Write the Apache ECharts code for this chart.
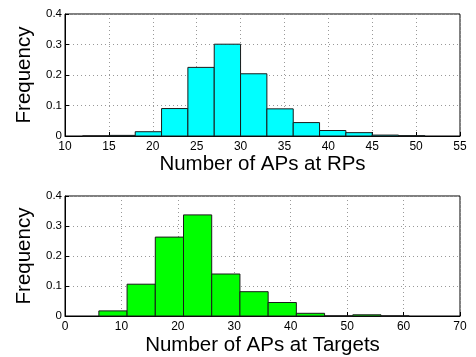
<!DOCTYPE html>
<html>
<head>
<meta charset="utf-8">
<script src="https://cdn.jsdelivr.net/npm/echarts@6/dist/echarts.min.js"></script>
<style>
  html, body { margin: 0; padding: 0; background: #fff; }
  #chart { width: 476px; height: 357px; }
</style>
</head>
<body>
<div id="chart"></div>
<script>
// Histogram of APs heard at reference points (bin width 3)
const rpBinStart = [12, 15, 18, 21, 24, 27, 30, 33, 36, 39, 42, 45, 48];
const rpFreq     = [0, 0.002, 0.014, 0.090, 0.225, 0.301, 0.204, 0.089, 0.044, 0.018, 0.011, 0.003, 0.001];
const rpBinWidth = 3;

// Histogram of APs heard at targets (bin width 5)
const tgBinStart = [6, 11, 16, 21, 26, 31, 36, 41, 46, 51, 56];
const tgFreq     = [0.017, 0.106, 0.263, 0.337, 0.140, 0.081, 0.045, 0.009, 0, 0.004, 0];
const tgBinWidth = 5;

const rpTicks = { min: 10, max: 55, interval: 5 };
const tgTicks = { min: 0, max: 70, interval: 10 };
const freqTicks = { min: 0, max: 0.4, interval: 0.1 };

const FONT = 'Liberation Sans, Arial, Helvetica, sans-serif';

function binData(starts, freqs, width) {
  return starts.map((s, i) => [s, s + width, freqs[i]]);
}

function renderBar(params, api) {
  const p0 = api.coord([api.value(0), 0]);
  const p1 = api.coord([api.value(1), api.value(2)]);
  return {
    type: 'rect',
    shape: { x: p0[0], y: p1[1], width: p1[0] - p0[0], height: p0[1] - p1[1] },
    style: api.style()
  };
}

function xAxisFor(range, name, gridIndex, nameGap) {
  return {
    type: 'value', gridIndex,
    min: range.min, max: range.max, interval: range.interval,
    name, nameLocation: 'middle', nameGap,
    nameTextStyle: { fontFamily: FONT, fontSize: 20.5, color: '#000' },
    axisLine: { lineStyle: { color: '#000', width: 1 } },
    axisTick: { inside: true, length: 4, lineStyle: { color: '#000' } },
    axisLabel: { fontFamily: FONT, fontSize: 12, color: '#000', margin: 5 },
    splitLine: { show: true, lineStyle: { color: '#999', type: [1, 3], width: 1 } }
  };
}

function yAxisFor(gridIndex) {
  return {
    type: 'value', gridIndex,
    min: freqTicks.min, max: freqTicks.max, interval: freqTicks.interval,
    name: 'Frequency', nameLocation: 'middle', nameGap: 27, nameRotate: 90,
    nameTextStyle: { fontFamily: FONT, fontSize: 20.5, color: '#000' },
    axisLine: { show: true, lineStyle: { color: '#000', width: 1 } },
    axisTick: { show: true, inside: true, length: 4, lineStyle: { color: '#000' } },
    axisLabel: { fontFamily: FONT, fontSize: 11.5, color: '#000', margin: 3 },
    splitLine: { show: true, lineStyle: { color: '#999', type: [1, 3], width: 1 } }
  };
}

const chart = echarts.init(document.getElementById('chart'), null, { renderer: 'canvas' });
chart.setOption({
  backgroundColor: '#fff',
  animation: false,
  grid: [
    { left: 65, right: 16, top: 14, height: 122, show: true, borderColor: '#000', borderWidth: 1, containLabel: false },
    { left: 65, right: 16, top: 196, height: 120, show: true, borderColor: '#000', borderWidth: 1, containLabel: false }
  ],
  xAxis: [
    xAxisFor(rpTicks, 'Number of APs at RPs', 0, 16),
    xAxisFor(tgTicks, 'Number of APs at Targets', 1, 19)
  ],
  yAxis: [yAxisFor(0), yAxisFor(1)],
  series: [
    {
      type: 'custom', xAxisIndex: 0, yAxisIndex: 0,
      renderItem: renderBar,
      encode: { x: [0, 1], y: 2 },
      itemStyle: { color: '#00ffff', borderColor: '#1a1a1a', borderWidth: 1 },
      data: binData(rpBinStart, rpFreq, rpBinWidth)
    },
    {
      type: 'custom', xAxisIndex: 1, yAxisIndex: 1,
      renderItem: renderBar,
      encode: { x: [0, 1], y: 2 },
      itemStyle: { color: '#00ff00', borderColor: '#1a1a1a', borderWidth: 1 },
      data: binData(tgBinStart, tgFreq, tgBinWidth)
    }
  ]
});
</script>
</body>
</html>
